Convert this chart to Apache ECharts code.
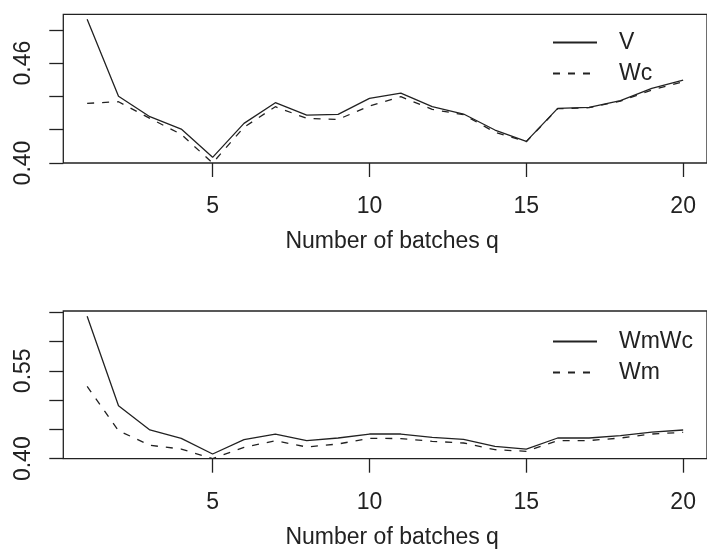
<!DOCTYPE html>
<html>
<head>
<meta charset="utf-8">
<script src="https://cdn.jsdelivr.net/npm/echarts@6/dist/echarts.min.js"></script>
<style>
html,body{margin:0;padding:0;background:#fff;}
#chart{width:707px;height:553px;}
</style>
</head>
<body>
<div id="chart"></div>
<script>
// Number of batches q
var qValues = [1,2,3,4,5,6,7,8,9,10,11,12,13,14,15,16,17,18,19,20];
// Top panel
var seriesV  = [0.4863,0.4401,0.4278,0.4204,0.4034,0.4238,0.4362,0.4288,0.4292,0.4388,0.4420,0.4338,0.4294,0.4198,0.4130,0.4328,0.4334,0.4374,0.4448,0.4498];
var seriesWc = [0.4358,0.4368,0.4268,0.4172,0.4000,0.4215,0.4338,0.4268,0.4262,0.4342,0.4398,0.4322,0.4290,0.4185,0.4128,0.4326,0.4332,0.4372,0.4438,0.4488];
// Bottom panel
var seriesWmWc = [0.6430,0.4904,0.4490,0.4348,0.4080,0.4324,0.4421,0.4307,0.4353,0.4421,0.4421,0.4365,0.4331,0.4212,0.4165,0.4353,0.4353,0.4392,0.4455,0.4490];
var seriesWm   = [0.5235,0.4478,0.4229,0.4165,0.4000,0.4194,0.4307,0.4200,0.4251,0.4348,0.4343,0.4297,0.4268,0.4154,0.4126,0.4307,0.4310,0.4353,0.4421,0.4450];
// Tick values and labels
var xTicks = [5,10,15,20];
var yTicksTop = [0.40,0.42,0.44,0.46,0.48];
var yLabelsTop = [0.40,0.46];
var yTicksBottom = [0.40,0.45,0.50,0.55,0.60,0.65];
var yLabelsBottom = [0.40,0.55];
var xTitle = 'Number of batches q';

function pairs(ys){ return qValues.map(function(q,i){ return [q, ys[i]]; }); }

var INK = '#222';
var FONT = 'Liberation Sans, Arial, Helvetica, sans-serif';
var FS = 23;
var DASH = [7,8];

function xAxisCfg(gi){
  return {
    type:'value', gridIndex:gi, min:0.24, max:20.76,
    splitLine:{show:false},
    axisLine:{show:false},
    axisTick:{show:true, inside:false, length:14, customValues:xTicks, lineStyle:{color:INK,width:1.3}},
    axisLabel:{show:true, customValues:xTicks, margin:32, color:INK, fontSize:FS, fontFamily:FONT},
    name:xTitle, nameLocation:'middle', nameGap:67,
    nameTextStyle:{color:INK, fontSize:FS, fontFamily:FONT, padding:[0,0,0,14]}
  };
}
function yAxisCfg(gi, max, ticks, labels){
  return {
    type:'value', gridIndex:gi, min:0.40, max:max,
    splitLine:{show:false},
    axisLine:{show:false},
    axisTick:{show:true, inside:false, length:14, customValues:ticks, lineStyle:{color:INK,width:1.3}},
    axisLabel:{show:true, customValues:labels, rotate:90, margin:28, color:INK, fontSize:FS, fontFamily:FONT,
      formatter:function(v){ return v.toFixed(2); }}
  };
}
function lineSeries(name, ys, gi, dashed){
  return {
    name:name, type:'line', xAxisIndex:gi, yAxisIndex:gi,
    data:pairs(ys), showSymbol:false, symbol:'none', animation:false,
    lineStyle:{color:INK, width:1.3, type: dashed ? DASH : 'solid'},
    itemStyle:{color:INK}
  };
}
function legendCfg(names, top){
  return {
    data:names, orient:'vertical', left:552, top:top, padding:0,
    itemWidth:44, itemHeight:14, itemGap:8,
    itemStyle:{opacity:0},
    textStyle:{color:INK, fontSize:FS, fontFamily:FONT, lineHeight:22, padding:[0,0,0,17]}
  };
}

var chart = echarts.init(document.getElementById('chart'), null, {renderer:'canvas'});
chart.setOption({
  backgroundColor:'#fff',
  animation:false,
  grid:[
    {left:63.3, top:14.3, width:650.7, height:148.7, show:true, borderColor:INK, borderWidth:1.3, backgroundColor:'transparent', containLabel:false},
    {left:63.3, top:311, width:650.7, height:147.7, show:true, borderColor:INK, borderWidth:1.3, backgroundColor:'transparent', containLabel:false}
  ],
  xAxis:[xAxisCfg(0), xAxisCfg(1)],
  yAxis:[yAxisCfg(0, 0.4893, yTicksTop, yLabelsTop), yAxisCfg(1, 0.652, yTicksBottom, yLabelsBottom)],
  legend:[legendCfg(['V','Wc'], 31), legendCfg(['WmWc','Wm'], 330)],
  series:[
    lineSeries('V', seriesV, 0, false),
    lineSeries('Wc', seriesWc, 0, true),
    lineSeries('WmWc', seriesWmWc, 1, false),
    lineSeries('Wm', seriesWm, 1, true)
  ]
});
</script>
</body>
</html>
